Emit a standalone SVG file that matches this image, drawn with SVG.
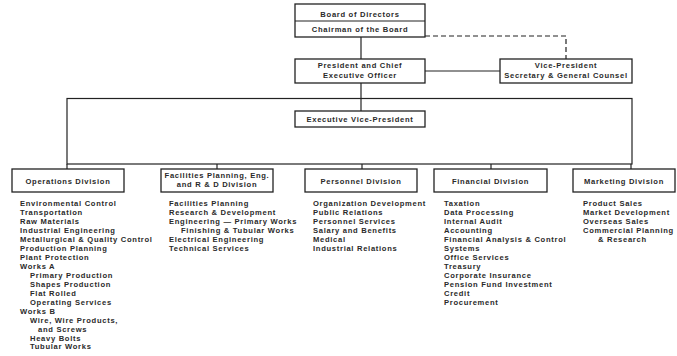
<svg xmlns="http://www.w3.org/2000/svg" width="677" height="356" viewBox="0 0 677 356">
  <style>
    .box { fill: #ffffff; stroke: #222222; stroke-width: 1.3; }
    .ln { fill: none; stroke: #222222; stroke-width: 1.2; }
    .dash { fill: none; stroke: #222222; stroke-width: 1.2; stroke-dasharray: 5 3; }
    text { font-family: "Liberation Sans", Arial, sans-serif; font-size: 7.6px; font-weight: bold; fill: #2a2a2a; letter-spacing: 0.7px; }
    .c { text-anchor: middle; }
  </style>
  <rect x="0" y="0" width="677" height="356" fill="#ffffff"/>

  <!-- connectors -->
  <g id="connectors">
    <line class="ln" x1="361" y1="37" x2="361" y2="59"/>
    <polyline class="dash" points="425,36 566,36 566,59"/>
    <line class="ln" x1="425" y1="71" x2="500" y2="71"/>
    <line class="ln" x1="361" y1="83" x2="361" y2="111"/>
    <rect class="ln" x="67" y="98.5" width="565" height="65.5"/>
    <line class="ln" x1="67" y1="164" x2="67" y2="169"/>
    <line class="ln" x1="217" y1="164" x2="217" y2="169"/>
    <line class="ln" x1="362" y1="164" x2="362" y2="169"/>
    <line class="ln" x1="491" y1="164" x2="491" y2="169"/>
    <line class="ln" x1="631" y1="164" x2="631" y2="169"/>
  </g>

  <!-- top management -->
  <g id="board">
    <rect class="box" x="295" y="4" width="130" height="33"/>
    <line class="ln" x1="295" y1="21" x2="425" y2="21"/>
    <text class="c" x="360" y="16.5">Board of Directors</text>
    <text class="c" x="360" y="32">Chairman of the Board</text>
  </g>
  <g id="president">
    <rect class="box" x="295" y="59" width="130" height="24"/>
    <text class="c" x="360" y="68">President and Chief</text>
    <text class="c" x="360" y="77.5">Executive Officer</text>
  </g>
  <g id="vp-secretary">
    <rect class="box" x="500" y="59" width="132" height="24"/>
    <text class="c" x="566" y="68">Vice-President</text>
    <text class="c" x="566" y="77.5">Secretary &amp; General Counsel</text>
  </g>
  <g id="evp">
    <rect class="box" x="295" y="111" width="130" height="16"/>
    <text class="c" x="360" y="122">Executive Vice-President</text>
  </g>

  <!-- divisions -->
  <g id="operations">
    <rect class="box" x="12" y="169" width="112" height="23"/>
    <text class="c" x="68" y="183.7">Operations Division</text>
    <text x="20" y="206">Environmental Control</text>
    <text x="20" y="215">Transportation</text>
    <text x="20" y="224">Raw Materials</text>
    <text x="20" y="233">Industrial Engineering</text>
    <text x="20" y="242">Metallurgical &amp; Quality Control</text>
    <text x="20" y="251">Production Planning</text>
    <text x="20" y="260">Plant Protection</text>
    <text x="20" y="269">Works A</text>
    <text x="30" y="278">Primary Production</text>
    <text x="30" y="287">Shapes Production</text>
    <text x="30" y="296">Flat Rolled</text>
    <text x="30" y="305">Operating Services</text>
    <text x="20" y="314">Works B</text>
    <text x="30" y="323">Wire, Wire Products,</text>
    <text x="38" y="331.5">and Screws</text>
    <text x="30" y="340.5">Heavy Bolts</text>
    <text x="30" y="349">Tubular Works</text>
  </g>
  <g id="facilities">
    <rect class="box" x="161" y="169" width="112" height="23"/>
    <text class="c" x="217" y="178.4">Facilities Planning, Eng.</text>
    <text class="c" x="217" y="187">and R &amp; D Division</text>
    <text x="169" y="206">Facilities Planning</text>
    <text x="169" y="215">Research &amp; Development</text>
    <text x="169" y="224">Engineering — Primary Works</text>
    <text x="181" y="233">Finishing &amp; Tubular Works</text>
    <text x="169" y="242">Electrical Engineering</text>
    <text x="169" y="251">Technical Services</text>
  </g>
  <g id="personnel">
    <rect class="box" x="305" y="169" width="112" height="23"/>
    <text class="c" x="361" y="183.7">Personnel Division</text>
    <text x="313" y="206">Organization Development</text>
    <text x="313" y="215">Public Relations</text>
    <text x="313" y="224">Personnel Services</text>
    <text x="313" y="233">Salary and Benefits</text>
    <text x="313" y="242">Medical</text>
    <text x="313" y="251">Industrial Relations</text>
  </g>
  <g id="financial">
    <rect class="box" x="434" y="169" width="113" height="23"/>
    <text class="c" x="490.5" y="183.7">Financial Division</text>
    <text x="444" y="206">Taxation</text>
    <text x="444" y="215">Data Processing</text>
    <text x="444" y="224">Internal Audit</text>
    <text x="444" y="233">Accounting</text>
    <text x="444" y="242">Financial Analysis &amp; Control</text>
    <text x="444" y="251">Systems</text>
    <text x="444" y="260">Office Services</text>
    <text x="444" y="269">Treasury</text>
    <text x="444" y="278">Corporate Insurance</text>
    <text x="444" y="287">Pension Fund Investment</text>
    <text x="444" y="296">Credit</text>
    <text x="444" y="305">Procurement</text>
  </g>
  <g id="marketing">
    <rect class="box" x="573" y="169" width="102" height="23"/>
    <text class="c" x="624" y="183.7">Marketing Division</text>
    <text x="583" y="206">Product Sales</text>
    <text x="583" y="215">Market Development</text>
    <text x="583" y="224">Overseas Sales</text>
    <text x="583" y="233">Commercial Planning</text>
    <text x="598" y="242">&amp; Research</text>
  </g>
</svg>
